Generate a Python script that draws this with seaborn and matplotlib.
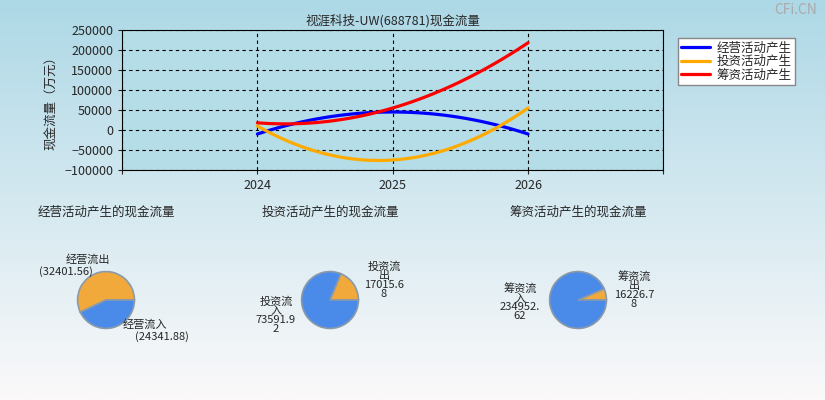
import matplotlib
matplotlib.use("Agg")
import matplotlib.pyplot as plt
import seaborn as sns
import numpy as np
from matplotlib.colors import LinearSegmentedColormap

sns.set_style("white")
plt.rcParams['font.family'] = ['Noto Sans CJK SC', 'DejaVu Sans']

years = [2024, 2025, 2026]
operating = [-10000, 45000, -10000]
investing = [10000, -75000, 55000]
financing = [18000, 55000, 218000]
series_names = ["经营活动产生", "投资活动产生", "筹资活动产生"]
series_colors = ["#0000ff", "#ffaa00", "#ff0000"]

pie_titles = ["经营活动产生的现金流量", "投资活动产生的现金流量", "筹资活动产生的现金流量"]
pie_out = [32401.56, 17015.68, 16226.78]
pie_in = [24341.88, 73591.92, 234952.62]

fig = plt.figure(figsize=(8.25, 4), dpi=100)
bg = fig.add_axes([0, 0, 1, 1], zorder=-10)
grad = np.linspace(0, 1, 256).reshape(-1, 1)
cm = LinearSegmentedColormap.from_list("bg", ["#add8e6", "#fbf9fa"])
bg.imshow(grad, aspect="auto", cmap=cm, extent=[0, 1, 0, 1])
bg.axis("off")

ax = fig.add_axes([0.148, 0.575, 0.656, 0.35])
ax.set_facecolor("#b4dde8")
xs = np.linspace(2024, 2026, 100)
for vals, name, c in zip([operating, investing, financing], series_names, series_colors):
    coef = np.polyfit(years, vals, 2)
    sns.lineplot(x=xs, y=np.polyval(coef, xs), ax=ax, color=c, lw=2.3, label=name)
ax.set_xlim(2023, 2027)
ax.set_ylim(-100000, 250000)
ax.set_xticks([2023, 2024, 2025, 2026, 2027])
ax.set_xticklabels(["", "2024", "2025", "2026", ""], fontsize=9)
ax.set_yticks(np.arange(-100000, 250001, 50000))
ax.tick_params(labelsize=9, length=3, direction="out", left=True, bottom=True)
ax.grid(True, color="black", ls=(0, (3, 3)), lw=0.8)
for s in ax.spines.values():
    s.set_color("black"); s.set_linewidth(0.8)
ax.set_ylabel("现金流量（万元）", fontsize=9)
ax.set_title("视涯科技-UW(688781)现金流量", fontsize=9, pad=4)
ax.legend(loc="upper left", bbox_to_anchor=(1.015, 0.99), fontsize=9, frameon=True,
          fancybox=False, edgecolor="#888888", facecolor="white", borderpad=0.3,
          labelspacing=0.05, handlelength=2.3, handletextpad=0.5, framealpha=1)

fig.text(0.965, 0.975, "CFi.CN", fontsize=10, color="#aaaaaa", ha="center", va="center")

centers = [106, 330, 578]
for i, cx in enumerate(centers):
    fig.text(cx / 825, 1 - 212 / 400, pie_titles[i], fontsize=9, ha="center", va="center")
    r = 29
    pax = fig.add_axes([(cx - r) / 825, (400 - 300 - r) / 400, 2 * r / 825, 2 * r / 400])
    pax.pie([pie_out[i], pie_in[i]], colors=["#f2a93b", "#4a8bea"], startangle=0, counterclock=True,
            wedgeprops=dict(edgecolor="#8a9aaa", linewidth=1.2))
    pax.set_xlim(-1.02, 1.02)
    pax.set_ylim(-1.02, 1.02)
    pax.set_aspect("auto")

fs = 8
ls = 0.9
fig.text(88 / 825, 1 - 259 / 400, "经营流出", fontsize=fs, ha="center", va="center")
fig.text(66 / 825, 1 - 272 / 400, "(32401.56)", fontsize=fs, ha="center", va="center")
fig.text(145 / 825, 1 - 324 / 400, "经营流入", fontsize=fs, ha="center", va="center")
fig.text(162 / 825, 1 - 337 / 400, "(24341.88)", fontsize=fs, ha="center", va="center")
fig.text(384 / 825, 1 - 280 / 400, "投资流\n出\n17015.6\n8", fontsize=fs, ha="center", va="center", linespacing=ls)
fig.text(276 / 825, 1 - 315 / 400, "投资流\n入\n73591.9\n2", fontsize=fs, ha="center", va="center", linespacing=ls)
fig.text(634 / 825, 1 - 290 / 400, "筹资流\n出\n16226.7\n8", fontsize=fs, ha="center", va="center", linespacing=ls)
fig.text(520 / 825, 1 - 302 / 400, "筹资流\n入\n234952.\n62", fontsize=fs, ha="center", va="center", linespacing=ls)

fig.savefig("out.png", dpi=100)
